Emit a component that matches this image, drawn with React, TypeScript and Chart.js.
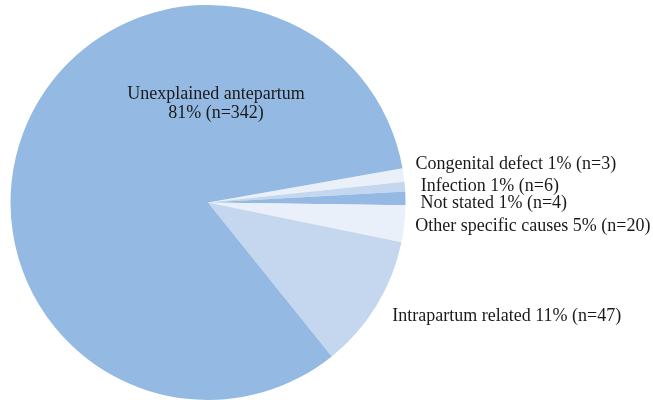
import React, { useEffect, useRef } from "react";
import { Chart, registerables } from "chart.js";

Chart.register(...registerables);

// Categories in clockwise drawing order
const categories = [
  "Congenital defect",
  "Infection",
  "Not stated",
  "Other specific causes",
  "Intrapartum related",
  "Unexplained antepartum",
];
// Counts and percent labels as printed
const counts = [3, 6, 4, 20, 47, 342];
const percentLabels = ["1%", "1%", "1%", "5%", "11%", "81%"];
// Slice shares (%) as drawn in the picture
const sliceShares = [1.1, 0.8, 1.1, 3.0, 11.0, 83.0];
const colors = ["#e9f0f9", "#c5d7ef", "#94bae3", "#e9f0f9", "#c5d7ef", "#94bae3"];

const FONT = "18px 'Liberation Serif', 'DejaVu Serif', serif";

const labelPlugin = {
  id: "sliceLabels",
  afterDatasetsDraw(chart: any) {
    const ctx = chart.ctx;
    const meta = chart.getDatasetMeta(0);
    const dy = [-10, 0, 5, 2, 10];
    const dx = [10, 14, 13, 9, 14];
    ctx.save();
    ctx.font = FONT;
    ctx.fillStyle = "#1a1a1a";
    ctx.textBaseline = "middle";
    meta.data.forEach((arc: any, i: number) => {
      const { x, y, startAngle, endAngle, outerRadius } = arc.getProps(
        ["x", "y", "startAngle", "endAngle", "outerRadius"],
        true
      );
      const text = `${categories[i]} ${percentLabels[i]} (n=${counts[i]})`;
      if (i < categories.length - 1) {
        const mid = (startAngle + endAngle) / 2;
        const r = outerRadius + 2;
        const px = x + Math.cos(mid) * r + dx[i];
        const py = y + Math.sin(mid) * r + dy[i];
        ctx.textAlign = "left";
        ctx.fillText(text, px, py);
      } else {
        ctx.textAlign = "center";
        ctx.fillText(categories[i], x + 8, y - 108);
        ctx.fillText(`${percentLabels[i]} (n=${counts[i]})`, x + 8, y - 89);
      }
    });
    ctx.restore();
  },
};

export default function App() {
  const ref = useRef<HTMLCanvasElement>(null);
  useEffect(() => {
    if (!ref.current) return;
    const chart = new Chart(ref.current, {
      type: "pie",
      data: {
        labels: categories,
        datasets: [
          {
            data: sliceShares,
            backgroundColor: colors,
            borderWidth: 0,
          },
        ],
      },
      options: {
        animation: false,
        responsive: true,
        maintainAspectRatio: false,
        rotation: 80,
        layout: { padding: { left: 10, right: 247, top: 5, bottom: 0 } },
        plugins: {
          legend: { display: false },
          tooltip: { enabled: false },
        },
      },
      plugins: [labelPlugin],
    });
    return () => chart.destroy();
  }, []);
  return (
    <div style={{ position: "fixed", left: 0, top: 0, width: 653, height: 400, background: "#fff" }}>
      <canvas ref={ref} />
    </div>
  );
}
